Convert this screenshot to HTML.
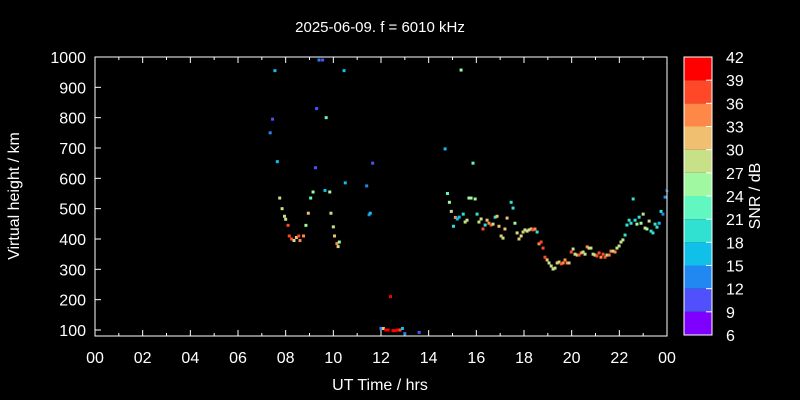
<!DOCTYPE html>
<html><head><meta charset="utf-8"><style>
body{margin:0;background:#000;}
svg{display:block;font-family:"Liberation Sans",sans-serif;}
</style></head><body>
<svg id="chart" width="800" height="400">
<rect width="800" height="400" fill="#000"/>
<text x="380" y="32" fill="#fff" font-size="15" text-anchor="middle">2025-06-09. f = 6010 kHz</text>
<text x="380" y="390" fill="#fff" font-size="16" text-anchor="middle">UT Time / hrs</text>
<text transform="translate(19,196) rotate(-90)" fill="#fff" font-size="16" text-anchor="middle">Virtual height / km</text>
<text transform="translate(760,196) rotate(-90)" fill="#fff" font-size="16" text-anchor="middle">SNR / dB</text>
<g id="axes"></g><g id="marks"></g><g id="cbar"></g>
<rect x="95" y="57" width="572" height="279" fill="none" stroke="#fff" stroke-width="1"/>
</svg>
<script>
const hours=[7.35,7.45,7.55,7.65,7.75,7.85,7.95,8.0,8.1,8.15,8.25,8.35,8.45,8.55,8.6,8.75,8.85,8.95,9.05,9.15,9.25,9.3,9.4,9.55,9.65,9.7,9.85,9.9,10.0,10.05,10.15,10.2,10.25,10.45,10.5,11.4,11.5,11.55,11.65,
12.0,12.1,12.2,12.3,12.4,12.5,12.6,12.7,12.8,12.9,13.0,13.6,
14.69,15.36,15.86,14.79,14.87,14.95,15.04,15.12,15.2,15.28,15.45,15.53,15.61,15.69,15.78,15.95,16.03,16.11,16.2,16.28,16.37,16.45,16.53,16.62,16.7,16.79,16.87,16.95,17.04,17.12,17.2,17.29,17.46,17.54,17.62,17.71,17.79,17.88,17.96,18.04,18.13,18.21,18.3,18.38,18.46,18.55,18.63,18.72,18.8,18.88,18.97,19.05,19.14,19.22,19.3,19.39,19.47,19.56,19.64,19.72,19.81,19.89,19.98,20.06,20.14,20.23,20.31,20.4,20.48,20.56,20.65,20.73,20.81,20.9,20.98,21.06,21.15,21.23,21.32,21.4,21.48,21.57,21.65,21.74,21.82,21.9,21.99,22.07,22.15,22.24,22.32,22.41,22.49,22.58,22.66,22.74,22.83,22.91,23.0,23.08,23.16,23.25,23.33,23.41,23.5,23.58,23.67,23.75,23.83,23.92,24.0,24.02];
const heights=[750,795,955,655,535,500,475,465,445,410,400,395,405,410,395,410,445,485,535,555,635,830,990,990,560,800,555,485,440,410,385,375,390,955,585,575,480,485,650,
105,105,100,100,210,98,98,100,100,105,88,92,
697,957,650,550,521,491,442,471,466,472,482,456,462,535,535,532,482,456,466,433,446,462,452,446,449,472,475,442,410,403,433,469,521,502,452,420,400,410,423,430,426,430,433,430,433,423,384,390,370,340,331,321,311,301,304,321,324,318,321,331,321,321,357,367,350,347,347,354,357,350,374,370,370,350,347,344,354,340,350,340,347,347,360,360,357,370,377,390,397,413,446,462,452,532,462,449,472,452,482,436,433,459,426,420,449,439,452,491,482,538,561,565];
const snrs=[13,10,16,16,28,28,28,28,37,38,38,28,31,37,34,34,25,31,22,25,10,10,13,10,16,22,25,28,28,31,34,28,25,16,16,13,13,16,10,
13,31,40,41,41,41,41,40,38,16,13,10,
16,25,22,22,25,28,20,34,16,16,20,28,28,25,25,25,20,28,28,37,20,31,34,37,28,20,31,31,31,28,31,31,20,20,25,28,31,28,31,28,28,28,31,38,34,20,34,38,38,38,31,28,28,28,28,31,28,38,34,34,34,31,38,28,28,28,38,34,28,28,34,28,28,28,28,38,38,34,38,38,28,34,34,28,34,28,28,28,28,20,20,20,20,20,20,25,20,25,28,28,25,28,20,20,20,20,16,20,13,13,13];
const yTicks=[100,200,300,400,500,600,700,800,900,1000];
const xTicks=[0,2,4,6,8,10,12,14,16,18,20,22,24];
const xTickLabels=["00","02","04","06","08","10","12","14","16","18","20","22","00"];
const cbarLabels=[6,9,12,15,18,21,24,27,30,33,36,39,42];
const bandColors=["#8000ff","#5050fc","#2088f0","#10c0e8","#30e0d0","#60f8c0","#a0f8a0","#c8e088","#f0c070","#ff8848","#ff4828","#ff0000"];
const NS="http://www.w3.org/2000/svg";
const X=h=>95+h*572/24;
const Y=v=>57+(1000-v)*273/900;
const CY=s=>335-(s-6)*278/36;
function color(s){let i=Math.floor((s-6)/3);i=Math.max(0,Math.min(11,i));return bandColors[i];}
function mk(tag,attrs,parent){const e=document.createElementNS(NS,tag);for(const k in attrs)e.setAttribute(k,attrs[k]);parent.appendChild(e);return e;}
const axes=document.getElementById('axes'),marks=document.getElementById('marks'),cbar=document.getElementById('cbar');
yTicks.forEach(v=>{
 const t=mk('line',{x1:95,x2:101,y1:Y(v),y2:Y(v),stroke:'#fff'},axes);
 
 const l=mk('text',{x:86,y:Y(v)+6,fill:'#fff','font-size':16,'text-anchor':'end'},axes);l.textContent=v;
 
});
for(let h=0;h<=24;h++){
 const major=h%2===0,len=major?6:3;
 const a=mk('line',{x1:X(h),x2:X(h),y1:336,y2:336-len,stroke:'#fff'},axes);
 
 const b=mk('line',{x1:X(h),x2:X(h),y1:57,y2:57+len,stroke:'#fff'},axes);
 
}
xTicks.forEach((h,i)=>{
 const l=mk('text',{x:X(h),y:363,fill:'#fff','font-size':16,'text-anchor':'middle'},axes);l.textContent=xTickLabels[i];
 
});
hours.forEach((h,i)=>{
 const r=mk('rect',{x:X(h)-1.5,y:Y(heights[i])-1.5,width:3,height:3,fill:color(snrs[i])},marks);
 
});
bandColors.forEach((c,i)=>{
 const s=6+i*3;
 const r=mk('rect',{x:684,y:CY(s+3),width:28,height:CY(s)-CY(s+3),fill:c},cbar);
 
});
const fr=mk('rect',{x:684,y:57,width:28,height:278,fill:'none',stroke:'#fff'},cbar);

cbarLabels.forEach(s=>{
 const t=mk('line',{x1:706,x2:712,y1:CY(s),y2:CY(s),stroke:'#fff'},cbar);
 
 const l=mk('text',{x:726,y:CY(s)+6,fill:'#fff','font-size':16},cbar);l.textContent=s;
 
});
</script>
</body></html>
